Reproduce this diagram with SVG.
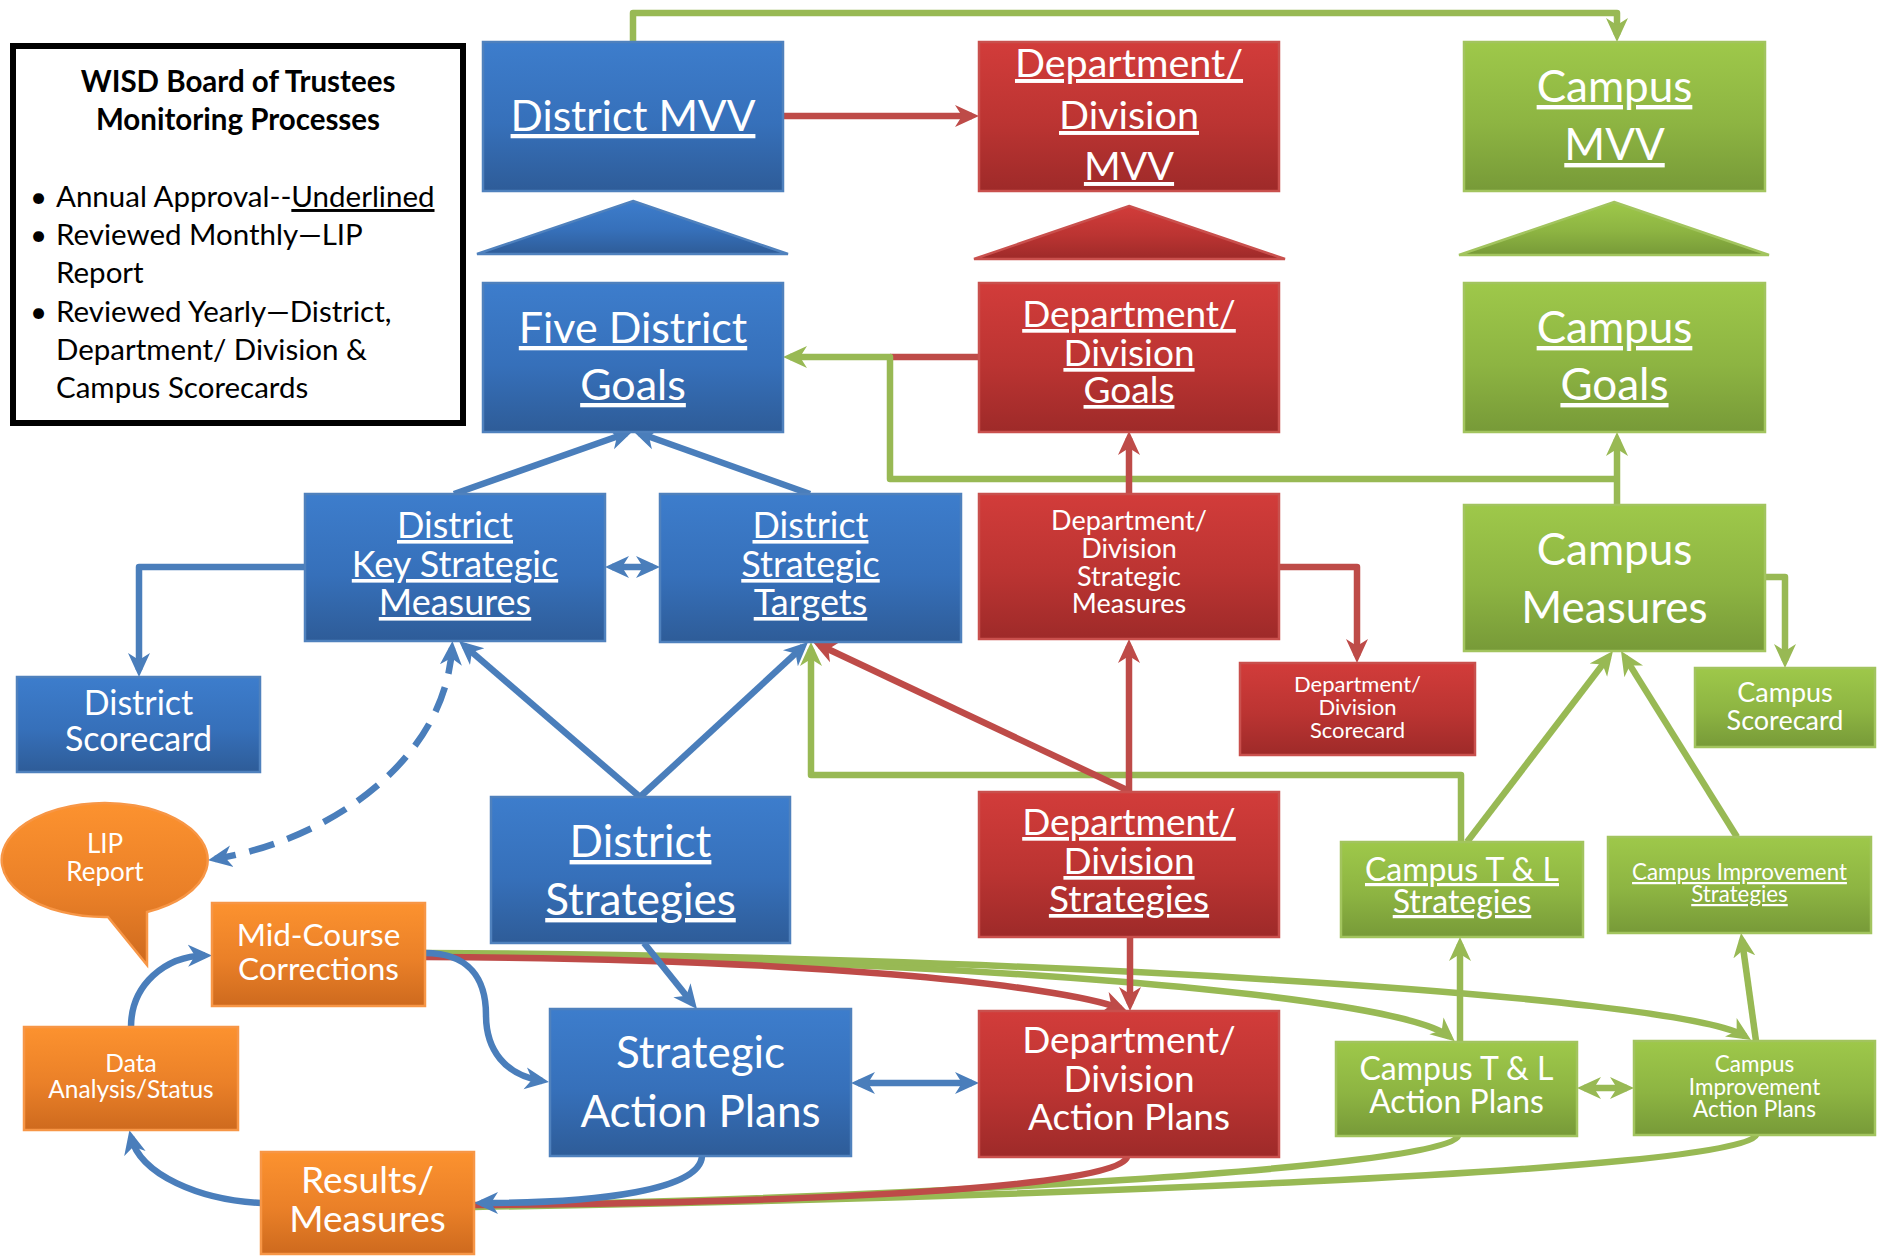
<svg xmlns="http://www.w3.org/2000/svg" width="1886" height="1256" viewBox="0 0 1886 1256">
<defs>
<linearGradient id="gB" x1="0" y1="0" x2="0" y2="1"><stop offset="0" stop-color="#3D7DCC"/><stop offset="0.55" stop-color="#3670BA"/><stop offset="1" stop-color="#2E5C98"/></linearGradient>
<linearGradient id="gR" x1="0" y1="0" x2="0" y2="1"><stop offset="0" stop-color="#D23C3A"/><stop offset="0.55" stop-color="#BB3432"/><stop offset="1" stop-color="#9E2A29"/></linearGradient>
<linearGradient id="gG" x1="0" y1="0" x2="0" y2="1"><stop offset="0" stop-color="#9EC84A"/><stop offset="0.55" stop-color="#8DB442"/><stop offset="1" stop-color="#779A38"/></linearGradient>
<linearGradient id="gO" x1="0" y1="0" x2="0" y2="1"><stop offset="0" stop-color="#FC922F"/><stop offset="0.55" stop-color="#EA8028"/><stop offset="1" stop-color="#CE6A1E"/></linearGradient>
<marker id="ab" viewBox="0 0 24 24" markerWidth="24" markerHeight="24" refX="17" refY="12" orient="auto-start-reverse" markerUnits="userSpaceOnUse"><path d="M0,1 L24,12 L0,23 L7,12 z" fill="#4A7EBB"/></marker>
<marker id="ar" viewBox="0 0 24 24" markerWidth="24" markerHeight="24" refX="17" refY="12" orient="auto-start-reverse" markerUnits="userSpaceOnUse"><path d="M0,1 L24,12 L0,23 L7,12 z" fill="#BE4B48"/></marker>
<marker id="ag" viewBox="0 0 24 24" markerWidth="24" markerHeight="24" refX="17" refY="12" orient="auto-start-reverse" markerUnits="userSpaceOnUse"><path d="M0,1 L24,12 L0,23 L7,12 z" fill="#98B954"/></marker>
</defs>
<style>
.nb{fill:url(#gB);stroke:#4F81BD;stroke-width:2.5}
.nr{fill:url(#gR);stroke:#C9504D;stroke-width:2.5}
.ng{fill:url(#gG);stroke:#A2C45E;stroke-width:2.5}
.no{fill:url(#gO);stroke:#F79646;stroke-width:2.5}
text{font-family:Lato,"Liberation Sans",sans-serif}
.t{fill:#fff;text-anchor:middle}
.u{text-decoration:underline}
.k{fill:#000}
.cb,.cr,.cg{fill:none;stroke-width:6.5;stroke-linejoin:round}
.cb{stroke:#4A7EBB}
.cr{stroke:#BE4B48}
.cg{stroke:#98B954}
.mb{marker-end:url(#ab)}
.mr{marker-end:url(#ar)}
.mg{marker-end:url(#ag)}
</style>
<rect width="1886" height="1256" fill="#fff"/>

<g id="board">
<rect x="13" y="46" width="450" height="377" fill="#fff" stroke="#000" stroke-width="6"/>
<text x="238" y="92" class="k" font-size="29.5" font-weight="bold" text-anchor="middle">WISD Board of Trustees</text>
<text x="238" y="130" class="k" font-size="29.5" font-weight="bold" text-anchor="middle">Monitoring Processes</text>
<g class="k" font-size="29.5">
<text x="30" y="207">•</text><text x="56" y="207">Annual Approval--<tspan class="u">Underlined</tspan></text>
<text x="30" y="245">•</text><text x="56" y="245">Reviewed Monthly—LIP</text>
<text x="56" y="283">Report</text>
<text x="30" y="322">•</text><text x="56" y="322">Reviewed Yearly—District,</text>
<text x="56" y="360">Department/ Division &amp;</text>
<text x="56" y="398">Campus Scorecards</text>
</g>
</g>

<g id="triangles">
<polygon points="633,201 788,254 477,254" class="nb"/>
<polygon points="1129,206 1285,259 974,259" class="nr"/>
<polygon points="1614,202 1769,255 1459,255" class="ng"/>
</g>

<g id="connectors">
<!-- green -->
<path class="cg mg" d="M633,42 V13 H1617 V35"/>
<path class="cg mg" d="M1617,505 V439"/>
<path class="cr" d="M979,357 H890"/>
<path class="cg mg" d="M1617,479 H890 V357 H790"/>
<path class="cg mg" d="M1461,842 V775 H811 V649"/>
<path class="cg mg" d="M1467,842 L1608.7,656.6"/>
<path class="cg mg" d="M1737,837 L1624.7,656.9"/>
<path class="cg mg" d="M1765,577 H1785 V661"/>
<path class="cg mg" d="M1460,1042 V944"/>
<path class="cg mg" d="M1756,1041 L1742,940"/>
<path class="cg mg" d="M1584,1088 H1627" marker-start="url(#ag)"/>
<path class="cg mg" d="M425,955 C950,958 1400,995 1449.4,1036.8"/>
<path class="cg mg" d="M425,953 C1000,955 1680,995 1745.1,1036.3"/>
<path class="cg" d="M1458,1136 C1450,1168 900,1198 474,1206"/>
<path class="cg" d="M1756,1135 C1745,1172 1000,1198 474,1207"/>
<!-- red -->
<path class="cr mr" d="M783,116 H972"/>
<path class="cr mr" d="M1129,494 V438"/>
<path class="cr mr" d="M1279,567 H1357 V656"/>
<path class="cr mr" d="M1129,791 V646"/>
<path class="cr mr" d="M1129,791 L819.3,645"/>
<path class="cr mr" d="M1130,937 V1004"/>
<path class="cr mr" d="M425,957 C800,958 1060,985 1120.5,1008.5"/>
<path class="cr" d="M1127,1157 C1120,1188 800,1203 474,1205"/>
<!-- blue -->
<path class="cb mb" d="M454,494 L626.4,433.3"/>
<path class="cb mb" d="M810,494 L639.6,433.3"/>
<path class="cb mb" d="M305,567 H139 V670"/>
<path class="cb mb" d="M612,567 H653" marker-start="url(#ab)"/>
<path class="cb mb" d="M640,797 L464.3,645.6"/>
<path class="cb mb" d="M640,797 L802.9,646.7"/>
<path class="cb mb" d="M452,648 C445,760 330,840 215,859" stroke-dasharray="26 14" marker-start="url(#ab)"/>
<path class="cb mb" d="M644,943 L692.6,1003.5"/>
<path class="cb mb" d="M858,1083 H972" marker-start="url(#ab)"/>
<path class="cb mb" d="M131,1027 C131,985 165,956 205,955.5"/>
<path class="cb mb" d="M425,953 C470,953 486,980 486,1015 C486,1050 505,1075 542,1081"/>
<path class="cb mb" d="M261,1203 C200,1200 140,1175 131,1137"/>
<path class="cb mb" d="M702,1156 C700,1190 600,1203 481,1203"/>
</g>

<g id="district_mvv"><rect x="483" y="42" width="300" height="149" class="nb"/>
<text x="633" y="131" class="t u" font-size="42.5">District MVV</text></g>

<g id="dept_mvv"><rect x="979" y="42" width="300" height="149" class="nr"/>
<text class="t u" font-size="39.5"><tspan x="1129" y="77">Department/</tspan><tspan x="1129" y="129">Division</tspan><tspan x="1129" y="180">MVV</tspan></text></g>

<g id="campus_mvv"><rect x="1464" y="42" width="301" height="149" class="ng"/>
<text class="t u" font-size="44"><tspan x="1614.5" y="102">Campus</tspan><tspan x="1614.5" y="160">MVV</tspan></text></g>

<g id="five_goals"><rect x="483" y="283" width="300" height="149" class="nb"/>
<text class="t u" font-size="43"><tspan x="633" y="343">Five District</tspan><tspan x="633" y="400">Goals</tspan></text></g>

<g id="dept_goals"><rect x="979" y="283" width="300" height="149" class="nr"/>
<text class="t u" font-size="37"><tspan x="1129" y="327">Department/</tspan><tspan x="1129" y="366">Division</tspan><tspan x="1129" y="403">Goals</tspan></text></g>

<g id="campus_goals"><rect x="1464" y="283" width="301" height="149" class="ng"/>
<text class="t u" font-size="44"><tspan x="1614.5" y="343">Campus</tspan><tspan x="1614.5" y="400">Goals</tspan></text></g>

<g id="dksm"><rect x="305" y="494" width="300" height="147" class="nb"/>
<text class="t u" font-size="36"><tspan x="455" y="538">District</tspan><tspan x="455" y="577">Key Strategic</tspan><tspan x="455" y="615">Measures</tspan></text></g>

<g id="dst"><rect x="660" y="494" width="301" height="148" class="nb"/>
<text class="t u" font-size="36"><tspan x="810.5" y="538">District</tspan><tspan x="810.5" y="577">Strategic</tspan><tspan x="810.5" y="615">Targets</tspan></text></g>

<g id="ddsm"><rect x="979" y="494" width="300" height="145" class="nr"/>
<text class="t" font-size="27"><tspan x="1129" y="530">Department/</tspan><tspan x="1129" y="558">Division</tspan><tspan x="1129" y="586">Strategic</tspan><tspan x="1129" y="613">Measures</tspan></text></g>

<g id="campus_measures"><rect x="1464" y="505" width="301" height="146" class="ng"/>
<text class="t" font-size="44"><tspan x="1614.5" y="565">Campus</tspan><tspan x="1614.5" y="623">Measures</tspan></text></g>

<g id="district_scorecard"><rect x="17" y="677" width="243" height="95" class="nb"/>
<text class="t" font-size="34"><tspan x="138.5" y="715">District</tspan><tspan x="138.5" y="751">Scorecard</tspan></text></g>

<g id="dept_scorecard"><rect x="1240" y="663" width="235" height="92" class="nr"/>
<text class="t" font-size="22"><tspan x="1357.5" y="692">Department/</tspan><tspan x="1357.5" y="715">Division</tspan><tspan x="1357.5" y="738">Scorecard</tspan></text></g>

<g id="campus_scorecard"><rect x="1695" y="668" width="180" height="79" class="ng"/>
<text class="t" font-size="27"><tspan x="1785" y="702">Campus</tspan><tspan x="1785" y="730">Scorecard</tspan></text></g>

<g id="lip_report"><path d="M108,917 L147,965 L147,912 A103,57 0 1 0 108,917 Z" class="no"/>
<text class="t" font-size="26"><tspan x="105" y="853">LIP</tspan><tspan x="105" y="881">Report</tspan></text></g>

<g id="mid_course"><rect x="212" y="903" width="213" height="103" class="no"/>
<text class="t" font-size="31.5"><tspan x="318.5" y="946">Mid-Course</tspan><tspan x="318.5" y="980">Corrections</tspan></text></g>

<g id="data_analysis"><rect x="24" y="1027" width="214" height="103" class="no"/>
<text class="t" font-size="24.5"><tspan x="131" y="1072">Data</tspan><tspan x="131" y="1098">Analysis/Status</tspan></text></g>

<g id="results"><rect x="261" y="1152" width="213" height="102" class="no"/>
<text class="t" font-size="37"><tspan x="367.5" y="1193">Results/</tspan><tspan x="367.5" y="1232">Measures</tspan></text></g>

<g id="district_strategies"><rect x="491" y="797" width="299" height="146" class="nb"/>
<text class="t u" font-size="44"><tspan x="640.5" y="857">District</tspan><tspan x="640.5" y="915">Strategies</tspan></text></g>

<g id="dept_strategies"><rect x="979" y="792" width="300" height="145" class="nr"/>
<text class="t u" font-size="37"><tspan x="1129" y="835">Department/</tspan><tspan x="1129" y="874">Division</tspan><tspan x="1129" y="912">Strategies</tspan></text></g>

<g id="campus_tl_strategies"><rect x="1341" y="842" width="242" height="95" class="ng"/>
<text class="t u" font-size="32"><tspan x="1462" y="881">Campus T &amp; L</tspan><tspan x="1462" y="913">Strategies</tspan></text></g>

<g id="campus_improvement_strategies"><rect x="1608" y="837" width="263" height="96" class="ng"/>
<text class="t u" font-size="22.3"><tspan x="1739.5" y="880">Campus Improvement</tspan><tspan x="1739.5" y="902">Strategies</tspan></text></g>

<g id="strategic_action_plans"><rect x="550" y="1009" width="301" height="147" class="nb"/>
<text class="t" font-size="44"><tspan x="700.5" y="1068">Strategic</tspan><tspan x="700.5" y="1127">Action Plans</tspan></text></g>

<g id="dept_action_plans"><rect x="979" y="1011" width="300" height="146" class="nr"/>
<text class="t" font-size="37"><tspan x="1129" y="1053">Department/</tspan><tspan x="1129" y="1092">Division</tspan><tspan x="1129" y="1130">Action Plans</tspan></text></g>

<g id="campus_tl_action_plans"><rect x="1336" y="1042" width="241" height="94" class="ng"/>
<text class="t" font-size="32"><tspan x="1456.5" y="1080">Campus T &amp; L</tspan><tspan x="1456.5" y="1113">Action Plans</tspan></text></g>

<g id="campus_improvement_action_plans"><rect x="1634" y="1041" width="241" height="94" class="ng"/>
<text class="t" font-size="22.5"><tspan x="1754.5" y="1072">Campus</tspan><tspan x="1754.5" y="1095">Improvement</tspan><tspan x="1754.5" y="1117">Action Plans</tspan></text></g>
</svg>
